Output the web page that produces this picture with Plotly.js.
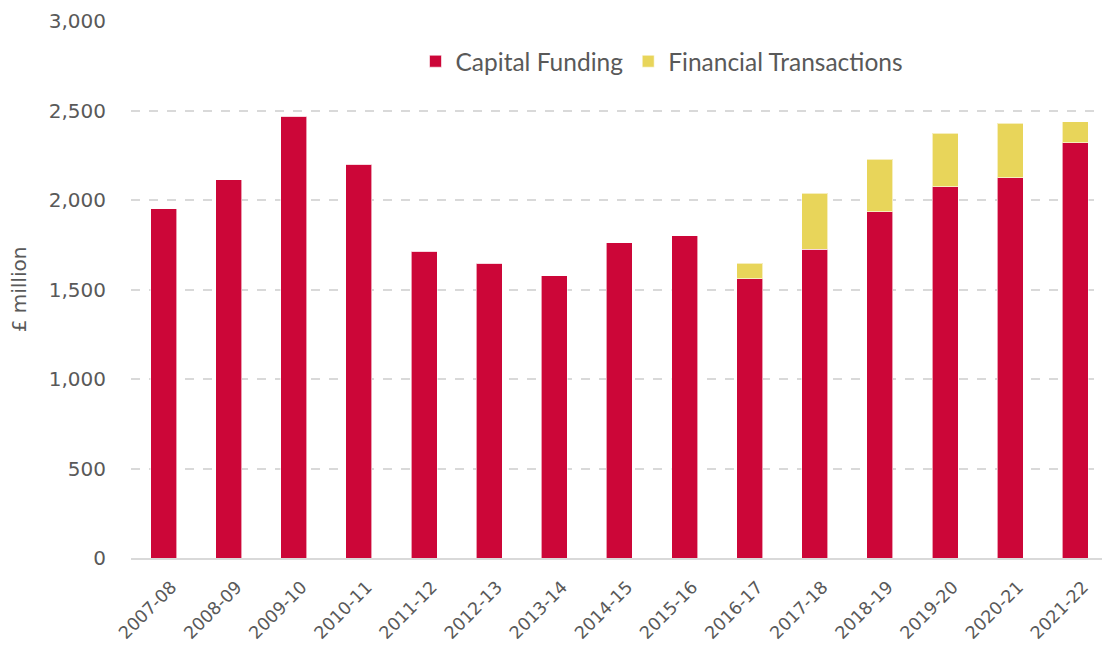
<!DOCTYPE html>
<html>
<head>
<meta charset="utf-8">
<script src="https://cdn.plot.ly/plotly-3.0.1.min.js"></script>
<style>html,body{margin:0;padding:0;background:#fff;}#chart{width:1102px;height:647px;}</style>
</head>
<body>
<div id="chart"></div>
<script>
const years = ["2007-08","2008-09","2009-10","2010-11","2011-12","2012-13","2013-14","2014-15","2015-16","2016-17","2017-18","2018-19","2019-20","2020-21","2021-22"];
const capitalFunding = [1950, 2112, 2469, 2201, 1715, 1648, 1576, 1760, 1799, 1559, 1726, 1933, 2073, 2123, 2319];
const financialTransactions = [0, 0, 0, 0, 0, 0, 0, 0, 0, 89, 313, 296, 301, 307, 117];
const yTicks = [0, 500, 1000, 1500, 2000, 2500, 3000];

const tickFam = "'DejaVu Sans', sans-serif";
const legFam = "Lato, 'Open Sans', sans-serif";
const traces = [
  {type:"bar", name:"Capital Funding", x:years, y:capitalFunding,
   marker:{color:"#CC0638", line:{color:"rgba(255,255,255,0.6)", width:1}}},
  {type:"bar", name:"Financial Transactions", x:years, y:financialTransactions,
   marker:{color:"#E8D55A", line:{color:"rgba(255,255,255,0.6)", width:1}}}
];
const layout = {
  width:1102, height:647, barmode:"stack", bargap:0.6,
  margin:{l:131, r:0, t:21, b:89},
  paper_bgcolor:"#fff", plot_bgcolor:"#fff",
  font:{family:tickFam, color:"#595959", size:17},
  showlegend:true,
  legend:{orientation:"h", x:0.293, y:0.925, xanchor:"left", yanchor:"middle",
          font:{family:legFam, size:24.5, color:"#595959"}, traceorder:"normal", itemwidth:30},
  xaxis:{type:"category", range:[-0.5, 14.41], tickangle:-45, tickfont:{size:17.5},
         showgrid:false, showline:true, linecolor:"#d9d9d9", linewidth:2, ticks:"",
         ticklabelstandoff:10, ticklabelshift:8},
  yaxis:{range:[0,3000], tickvals:yTicks, tickformat:",", tickfont:{size:20},
         showgrid:true, gridcolor:"#d9d9d9", griddash:"dash", gridwidth:2,
         zeroline:false, ticks:"", ticklen:0, ticklabelstandoff:24,
         title:{text:"£ million", font:{size:20, color:"#595959"}, standoff:16}}
};
Plotly.newPlot("chart", traces, layout, {displayModeBar:false, staticPlot:true});
</script>
</body>
</html>
